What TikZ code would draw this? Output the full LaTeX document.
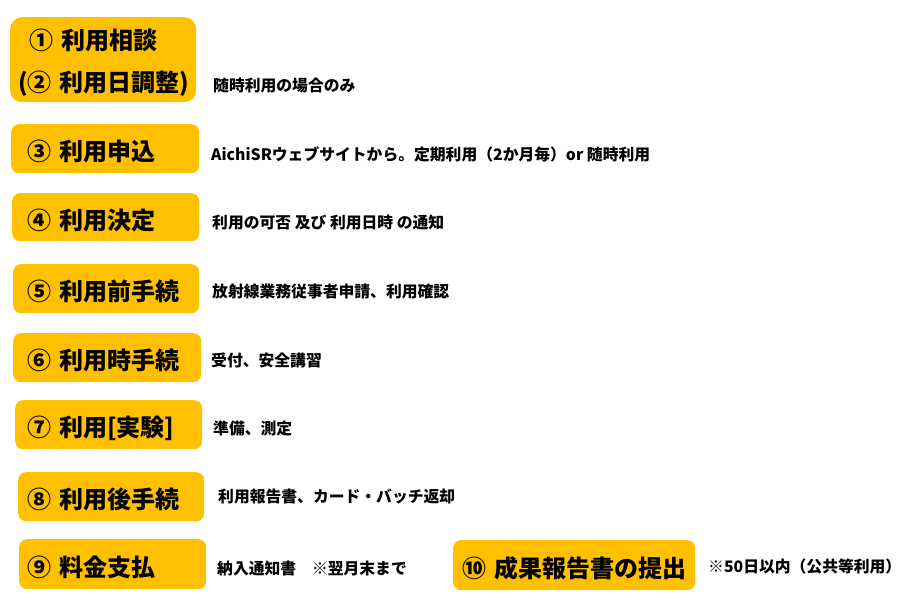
\documentclass[tikz,border=0pt]{standalone}
\usepackage{fontspec}
\setmainfont{Noto Sans CJK JP}
\newfontfamily\jp{Noto Sans CJK JP}
\definecolor{boxc}{HTML}{FFC000}
\tikzset{
  stepbox/.style={fill=boxc, draw=none, rounded corners=8pt, anchor=north west,
    align=left, inner ysep=0pt, font=\jp\bfseries\fontsize{24}{42}\selectfont, text=black},
  note/.style={anchor=west, inner sep=0pt, font=\jp\bfseries\fontsize{15.8}{18}\selectfont, text=black}
}
\newcommand{\bx}[7]{% name, left, top, right, bottom, text
  \pgfmathsetmacro{\xs}{27-#2}%
  \pgfmathsetmacro{\tw}{#4-#2-2*(27-#2)}%
  \node[stepbox, inner xsep=\xs pt, text width=\tw pt, text height=24pt, text depth=0pt, minimum height=#5-#3 pt, #7] (#1) at (#2,#3) {\mbox{#6}};}
\begin{document}
\begin{tikzpicture}[x=1pt,y=-1pt]
\useasboundingbox (0,0) rectangle (907,609);
\node[stepbox, rounded corners=12pt, inner xsep=8pt, text width=170pt, text height=27pt, minimum height=85pt] (b1) at (10,17)
  {\mbox{\hspace*{11pt}① 利用相談}\\\mbox{(② 利用日調整)}};
\bx{b3}{11}{124}{199}{173}{③ 利用申込}{}
\bx{b4}{12}{193}{199}{241}{④ 利用決定}{}
\bx{b5}{13}{264}{199}{313}{⑤ 利用前手続}{}
\bx{b6}{13}{333}{201}{382}{⑥ 利用時手続}{}
\bx{b7}{15}{400}{202}{449}{⑦ 利用[実験]}{}
\bx{b8}{18}{472}{204}{521}{⑧ 利用後手続}{}
\bx{b9}{19}{539}{206}{589}{⑨ 料金支払}{}
\node[stepbox, inner xsep=9pt, text width=224pt, text height=24pt, text depth=0pt, minimum height=50pt] (b10) at (453,540) {\mbox{⑩ 成果報告書の提出}};
\node[note] (n1) at (213,86) {随時利用の場合のみ};
\node[note] (n3) at (211,154) {AichiSRウェブサイトから。定期利用（2か月毎）or 随時利用};
\node[note] (n4) at (212,223) {利用の可否 及び 利用日時 の通知};
\node[note] (n5) at (212,292) {放射線業務従事者申請、利用確認};
\node[note] (n6) at (211,360) {受付、安全講習};
\node[note] (n7) at (213,429) {準備、測定};
\node[note] (n8) at (218,497) {利用報告書、カード・バッチ返却};
\node[note] (n9) at (217,568) {納入通知書　※翌月末まで};
\node[note] (n10) at (708,566) {※50日以内（公共等利用）};
\end{tikzpicture}
\end{document}
